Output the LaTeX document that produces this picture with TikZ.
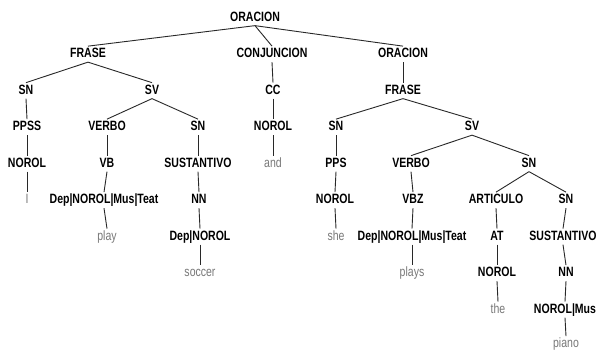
\documentclass[tikz,border=0pt]{standalone}
\usepackage{fontspec}
\setmainfont{Liberation Sans}[FakeStretch=0.78]
\begin{document}
\begin{tikzpicture}[x=1pt,y=-1pt,
  tag/.style={font=\fontsize{13.5}{14}\selectfont\bfseries, text=black, inner sep=0pt,
    text height=10pt, text depth=3pt, outer ysep=1.5pt, anchor=mid},
  leaf/.style={font=\fontsize{13.5}{14}\selectfont, text={rgb,255:red,120;green,120;blue,120}, inner sep=0pt,
    text height=10pt, text depth=3pt, outer ysep=1.5pt, anchor=mid},
  edge/.style={draw={rgb,255:red,40;green,40;blue,40}, line width=0.9pt}]
\useasboundingbox (0,0) rectangle (598,349);
\fill[white] (0,0) rectangle (598,349);
% rows
\def\ra{18.5}\def\rb{55}\def\rc{91.5}\def\rd{128}\def\re{164.5}
\def\rf{201}\def\rg{237.5}\def\rh{274}\def\ri{310.5}\def\rj{345}
\node[tag] (O) at (255,\ra) {ORACION};
\node[tag] (F1) at (88,\rb) {FRASE};
\node[tag] (SN1) at (26,\rc) {SN};
\node[tag] (PPSS) at (27,\rd) {PPSS};
\node[tag] (NO1) at (27,\re) {NOROL};
\node[leaf] (I) at (27,\rf) {I};
\node[tag] (SV1) at (152,\rc) {SV};
\node[tag] (VE1) at (107,\rd) {VERBO};
\node[tag] (VB) at (107,\re) {VB};
\node[tag] (D1) at (104,\rf) {Dep|NOROL|Mus|Teat};
\node[leaf] (play) at (107,\rg) {play};
\node[tag] (SN2) at (198,\rd) {SN};
\node[tag] (SU1) at (198,\re) {SUSTANTIVO};
\node[tag] (NN1) at (199,\rf) {NN};
\node[tag] (D2) at (200,\rg) {Dep|NOROL};
\node[leaf] (soccer) at (200,\rh) {soccer};
\node[tag] (CJ) at (272,\rb) {CONJUNCION};
\node[tag] (CC) at (273,\rc) {CC};
\node[tag] (NO2) at (273,\rd) {NOROL};
\node[leaf] (and) at (273,\re) {and};
\node[tag] (O2) at (403,\rb) {ORACION};
\node[tag] (F2) at (403,\rc) {FRASE};
\node[tag] (SN3) at (336,\rd) {SN};
\node[tag] (PPS) at (336,\re) {PPS};
\node[tag] (NO3) at (335,\rf) {NOROL};
\node[leaf] (she) at (336,\rg) {she};
\node[tag] (SV2) at (472,\rd) {SV};
\node[tag] (VE2) at (411,\re) {VERBO};
\node[tag] (VBZ) at (413,\rf) {VBZ};
\node[tag] (D3) at (412,\rg) {Dep|NOROL|Mus|Teat};
\node[leaf] (plays) at (412,\rh) {plays};
\node[tag] (SN4) at (529,\re) {SN};
\node[tag] (ART) at (496,\rf) {ARTICULO};
\node[tag] (AT) at (497,\rg) {AT};
\node[tag] (NO4) at (497,\rh) {NOROL};
\node[leaf] (the) at (498,\ri) {the};
\node[tag] (SN5) at (566,\rf) {SN};
\node[tag] (SU2) at (563,\rg) {SUSTANTIVO};
\node[tag] (NN2) at (566,\rh) {NN};
\node[tag] (NM) at (565,\ri) {NOROL|Mus};
\node[leaf] (piano) at (566,\rj) {piano};
% edges
\foreach \a/\b in {O/F1,O/CJ,O/O2,F1/SN1,F1/SV1,SN1/PPSS,PPSS/NO1,NO1/I,
  SV1/VE1,SV1/SN2,VE1/VB,VB/D1,D1/play,SN2/SU1,SU1/NN1,NN1/D2,D2/soccer,
  CJ/CC,CC/NO2,NO2/and,O2/F2,F2/SN3,F2/SV2,SN3/PPS,PPS/NO3,NO3/she,
  SV2/VE2,SV2/SN4,VE2/VBZ,VBZ/D3,D3/plays,SN4/ART,SN4/SN5,ART/AT,AT/NO4,NO4/the,
  SN5/SU2,SU2/NN2,NN2/NM,NM/piano}
  \path[edge] (\a.south) -- (\b.north);
\end{tikzpicture}
\end{document}
